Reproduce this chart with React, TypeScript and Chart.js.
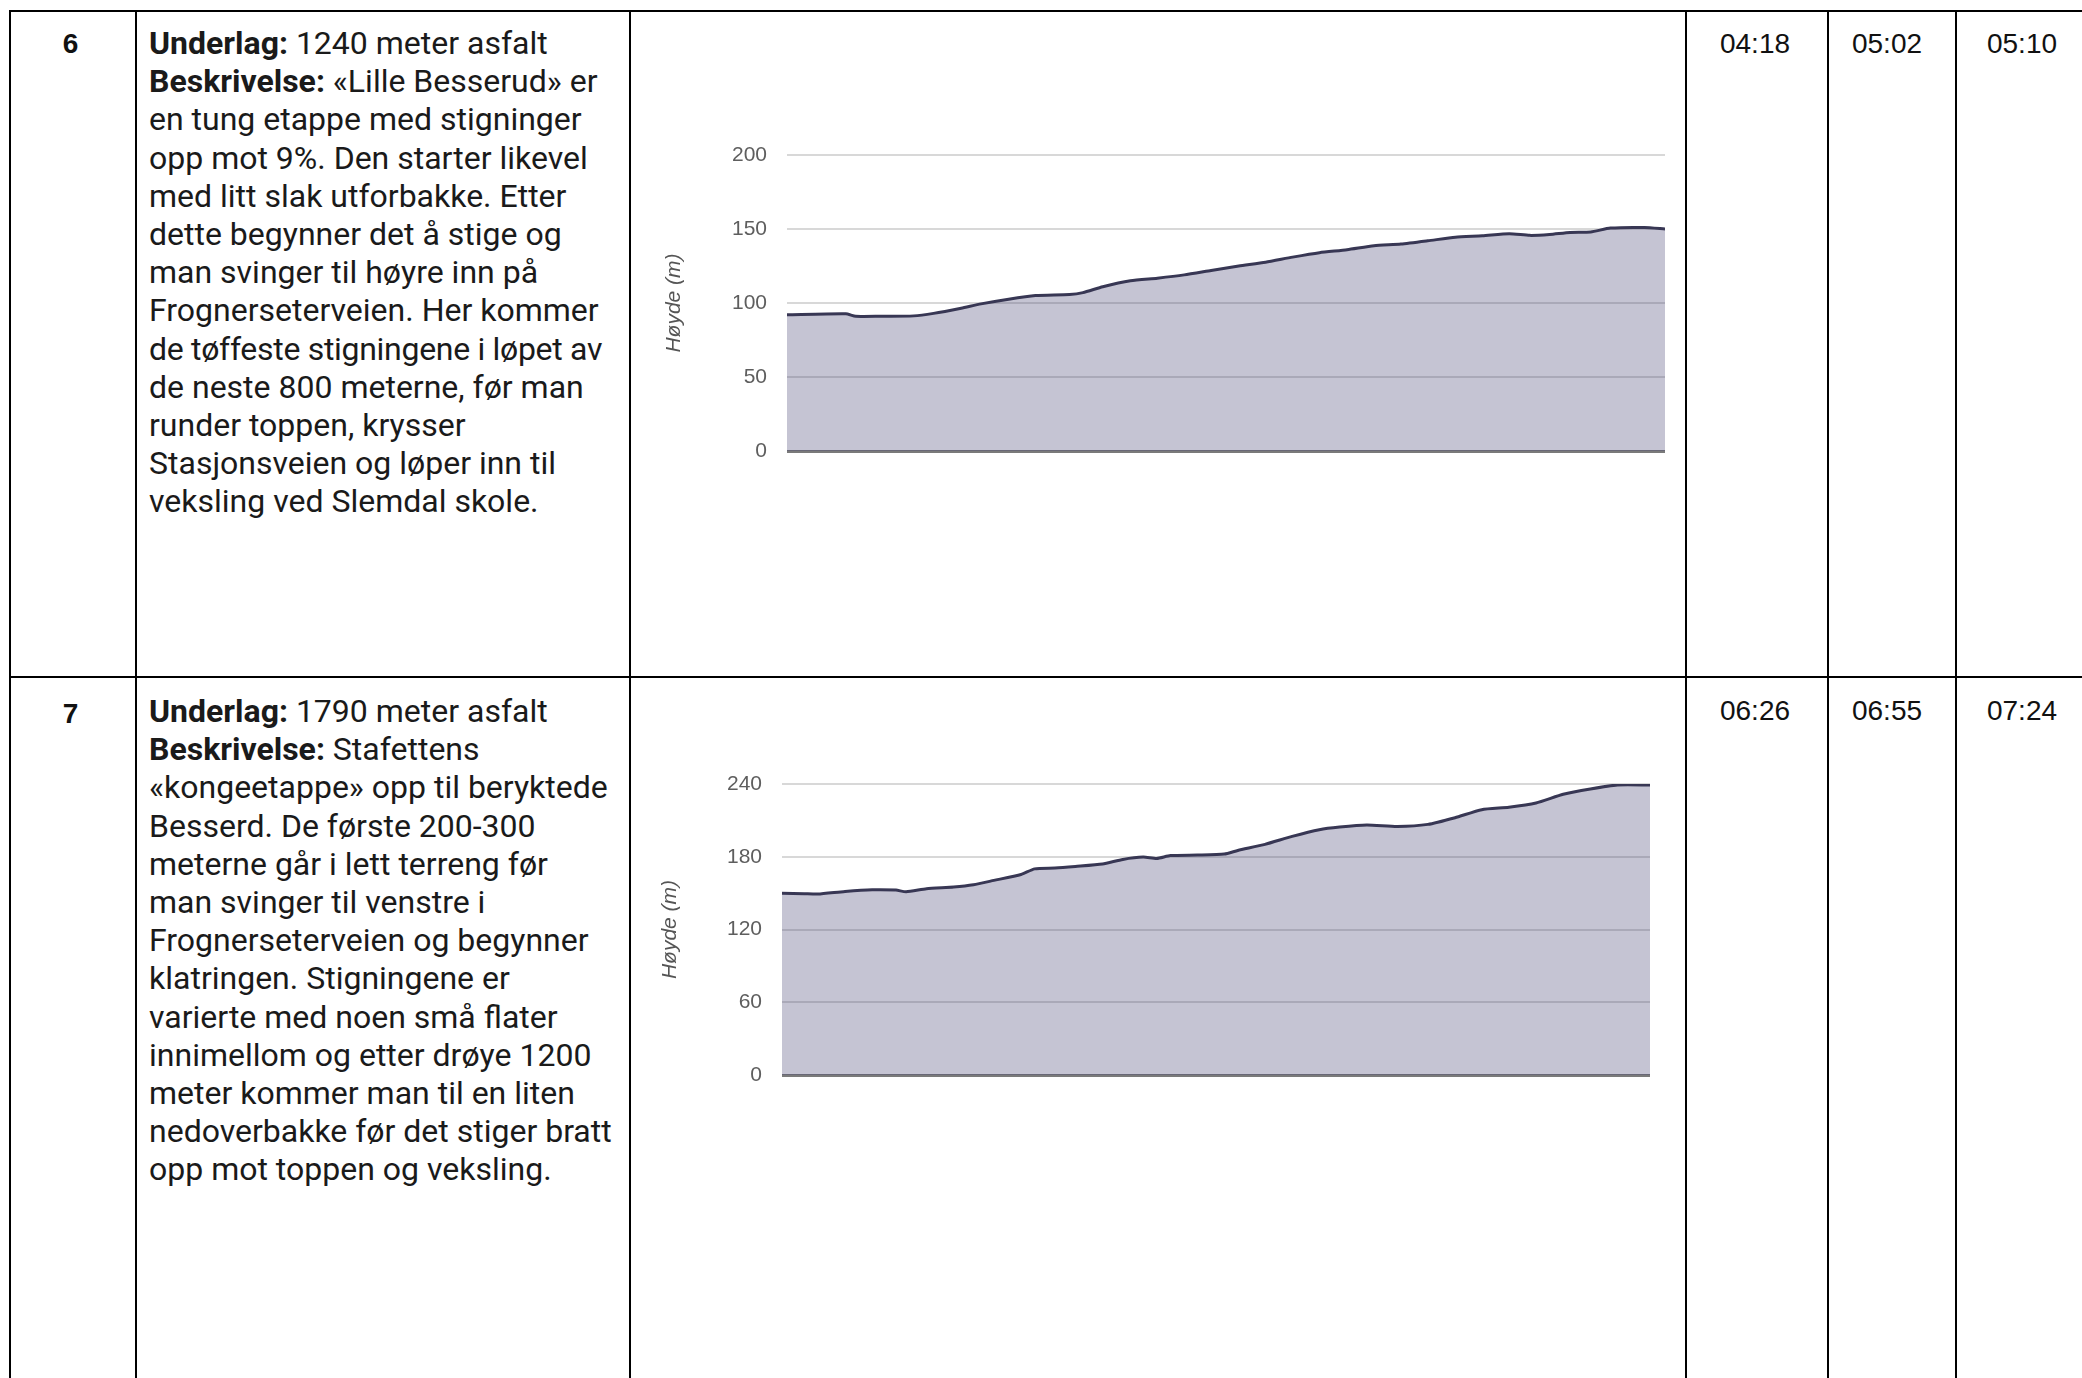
import React, { useEffect, useRef } from "react";
import { Chart, registerables } from "chart.js";

Chart.register(...registerables);

// Etappe 6 elevation profile
const dist6: number[] = [0, 83, 97, 131, 179, 207, 246, 274, 313, 351, 399, 418, 446, 485, 523, 561, 599, 638, 676, 714, 752, 791, 829, 867, 905, 944, 982, 1020, 1049, 1077, 1106, 1135, 1163, 1211, 1240];
const elev6: number[] = [92, 92.7, 91, 91, 91.3, 93, 96.5, 99.4, 102.6, 105, 105.7, 107, 111, 115, 116.8, 119, 122, 125, 127.6, 131, 134, 136, 138.7, 139.8, 142, 144.5, 145.4, 146.8, 145.7, 146.3, 147.7, 148, 150.6, 151, 150];
const ticks6: number[] = [0, 50, 100, 150, 200];

// Etappe 7 elevation profile
const dist7: number[] = [0, 46, 74, 130, 186, 235, 256, 298, 354, 395, 437, 493, 521, 563, 605, 661, 703, 745, 773, 801, 857, 912, 940, 996, 1052, 1108, 1150, 1206, 1269, 1332, 1388, 1443, 1499, 1555, 1611, 1667, 1723, 1790];
const elev7: number[] = [150, 149.5, 149.2, 151.4, 152.8, 152.5, 151.1, 153.6, 155, 156.9, 160.5, 165.4, 170, 170.7, 172, 174, 177.8, 179.7, 178.6, 181, 181.4, 182.2, 185.2, 190.2, 196.8, 202.3, 204.5, 206.2, 205, 206.7, 212.2, 218.8, 220.8, 224.3, 231.5, 235.9, 239.2, 239.2];
const ticks7: number[] = [0, 60, 120, 180, 240];

const stageNumbers: string[] = ["6", "7"];
const times6: string[] = ["04:18", "05:02", "05:10"];
const times7: string[] = ["06:26", "06:55", "07:24"];

const yTitle = "Høyde (m)";

type ChartProps = {
  dist: number[];
  elev: number[];
  ticks: number[];
  left: number;
  top: number;
  width: number;
  height: number;
  axisWidth: number;
  pad: { top: number; right: number; bottom: number; left: number };
};

function ElevationChart(p: ChartProps) {
  const ref = useRef<HTMLCanvasElement | null>(null);
  useEffect(() => {
    if (!ref.current) return;
    const maxV = p.ticks[p.ticks.length - 1];
    const step = p.ticks[1] - p.ticks[0];
    const chart = new Chart(ref.current, {
      type: "line",
      data: {
        datasets: [
          {
            data: p.dist.map((d, i) => ({ x: d, y: p.elev[i] })),
            borderColor: "#383754",
            borderWidth: 3,
            backgroundColor: "rgba(62,60,110,0.30)",
            fill: "origin",
            pointRadius: 0,
            tension: 0.2,
          },
        ],
      },
      options: {
        animation: false,
        responsive: false,
        maintainAspectRatio: false,
        layout: { padding: p.pad },
        plugins: { legend: { display: false }, tooltip: { enabled: false } },
        scales: {
          x: {
            type: "linear",
            min: 0,
            max: p.dist[p.dist.length - 1],
            display: false,
          },
          y: {
            min: 0,
            max: maxV,
            afterFit: (s: any) => {
              s.width = p.axisWidth;
            },
            ticks: {
              stepSize: step,
              padding: 20,
              color: "#5e5e5e",
              font: { family: "'Liberation Sans', Arial, sans-serif", size: 21 },
            },
            border: { display: false },
            grid: {
              drawTicks: false,
              color: (c: any) => (c.tick && c.tick.value === 0 ? "#7a7a7a" : "#d8d8d8"),
              lineWidth: (c: any) => (c.tick && c.tick.value === 0 ? 3 : 2),
            },
            title: {
              display: true,
              text: yTitle,
              color: "#555555",
              font: { family: "'Liberation Sans', Arial, sans-serif", size: 21, style: "italic" },
              padding: { top: 2, bottom: 4 },
            },
          },
        },
      },
    });
    return () => chart.destroy();
  }, []);
  return (
    <canvas
      ref={ref}
      width={p.width}
      height={p.height}
      style={{ position: "absolute", left: p.left, top: p.top, width: p.width, height: p.height }}
    />
  );
}

const lineStyle = (left: number, top: number, w: number, h: number): React.CSSProperties => ({
  position: "absolute",
  left,
  top,
  width: w,
  height: h,
  background: "#000",
});

const cellFont: React.CSSProperties = {
  position: "absolute",
  fontFamily: "'Liberation Sans', Arial, sans-serif",
  fontSize: 28,
  lineHeight: "32px",
  color: "#111",
  textAlign: "center",
  width: 100,
  whiteSpace: "nowrap",
};

const descStyle: React.CSSProperties = {
  position: "absolute",
  left: 149,
  fontFamily: "Roboto, sans-serif",
  fontSize: 32,
  lineHeight: "38.2px",
  color: "#1a1a1a",
  whiteSpace: "nowrap",
};

const desc6: string[] = [
  "en tung etappe med stigninger",
  "opp mot 9%. Den starter likevel",
  "med litt slak utforbakke. Etter",
  "dette begynner det å stige og",
  "man svinger til høyre inn på",
  "Frognerseterveien. Her kommer",
  "de tøffeste stigningene i løpet av",
  "de neste 800 meterne, før man",
  "runder toppen, krysser",
  "Stasjonsveien og løper inn til",
  "veksling ved Slemdal skole.",
];

const desc7: string[] = [
  "«kongeetappe» opp til beryktede",
  "Besserd. De første 200-300",
  "meterne går i lett terreng før",
  "man svinger til venstre i",
  "Frognerseterveien og begynner",
  "klatringen. Stigningene er",
  "varierte med noen små flater",
  "innimellom og etter drøye 1200",
  "meter kommer man til en liten",
  "nedoverbakke før det stiger bratt",
  "opp mot toppen og veksling.",
];

const timeCenters = [1755, 1887, 2022];

export default function App() {
  const vx = [9, 135, 629, 1685, 1827, 1955];
  return (
    <div style={{ position: "absolute", left: 0, top: 0, width: 2082, height: 1378, overflow: "hidden", background: "#fff" }}>
      {/* borders */}
      <div style={lineStyle(9, 10, 2100, 2)} />
      <div style={lineStyle(9, 676, 2100, 2)} />
      {vx.map((x) => (
        <div key={x} style={lineStyle(x, 10, 2, 1400)} />
      ))}

      {/* row 6 */}
      <div style={{ ...cellFont, left: 20.5, top: 28, fontWeight: "bold" }}>{stageNumbers[0]}</div>
      <div style={{ ...descStyle, top: 24 }}>
        <b>Underlag:</b> 1240 meter asfalt
        <br />
        <b>Beskrivelse:</b> «Lille Besserud» er
        {desc6.map((l, i) => (
          <React.Fragment key={i}>
            <br />
            <span style={i === 6 ? { letterSpacing: "-0.3px" } : undefined}>{l}</span>
          </React.Fragment>
        ))}
      </div>
      {times6.map((t, i) => (
        <div key={t} style={{ ...cellFont, left: timeCenters[i] - 50, top: 28 }}>{t}</div>
      ))}
      <ElevationChart
        dist={dist6}
        elev={elev6}
        ticks={ticks6}
        left={660}
        top={100}
        width={1016}
        height={400}
        axisWidth={127}
        pad={{ top: 55, right: 11, bottom: 49, left: 0 }}
      />

      {/* row 7 */}
      <div style={{ ...cellFont, left: 20.5, top: 698, fontWeight: "bold" }}>{stageNumbers[1]}</div>
      <div style={{ ...descStyle, top: 692 }}>
        <b>Underlag:</b> 1790 meter asfalt
        <br />
        <b>Beskrivelse:</b> Stafettens
        {desc7.map((l, i) => (
          <React.Fragment key={i}>
            <br />
            {l}
          </React.Fragment>
        ))}
      </div>
      {times7.map((t, i) => (
        <div key={t} style={{ ...cellFont, left: timeCenters[i] - 50, top: 695 }}>{t}</div>
      ))}
      <ElevationChart
        dist={dist7}
        elev={elev7}
        ticks={ticks7}
        left={656}
        top={730}
        width={1006}
        height={400}
        axisWidth={126}
        pad={{ top: 54, right: 12, bottom: 55, left: 0 }}
      />
    </div>
  );
}
